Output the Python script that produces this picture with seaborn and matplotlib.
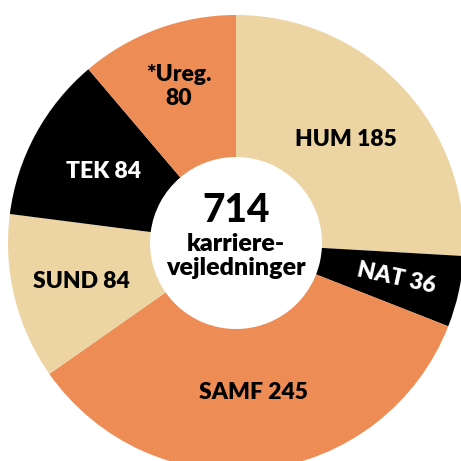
import numpy as np
import matplotlib
matplotlib.use("Agg")
import matplotlib.pyplot as plt
import seaborn as sns

# data
categories = ["HUM", "NAT", "SAMF", "SUND", "TEK", "*Ureg."]
values = [185, 36, 245, 84, 84, 80]
total_label = "714"
center_text = "karriere-\nvejledninger"

BEIGE = "#ECD5A3"
ORANGE = "#EE8C56"
BLACK = "#000000"
colors = [BEIGE, BLACK, ORANGE, BEIGE, BLACK, ORANGE]
text_colors = ["black", "white", "black", "black", "white", "black"]
label_dist = [0.66, 0.72, 0.66, 0.70, 0.66, 0.73]

sns.set_theme(style="white")
plt.rcParams["font.family"] = ["Lato", "DejaVu Sans"]

fig = plt.figure(figsize=(4.61, 4.61), dpi=100)
ax = fig.add_axes([0, 0, 1, 1])

R = 228.0
cx, cy = 236.0, 243.0
hole = 86.0 / R

wedges, _ = ax.pie(values, colors=colors, startangle=90, counterclock=False,
                   radius=1.0, wedgeprops=dict(width=1 - hole, linewidth=0))

for i, w in enumerate(wedges):
    mid = np.deg2rad((w.theta1 + w.theta2) / 2)
    x = label_dist[i] * np.cos(mid)
    y = label_dist[i] * np.sin(mid)
    if categories[i] == "*Ureg.":
        txt = f"{categories[i]}\n{values[i]}"
    else:
        txt = f"{categories[i]} {values[i]}"
    rot = np.rad2deg(mid) if categories[i] == "NAT" else 0
    ax.text(x, y, txt, ha="center", va="center", color=text_colors[i],
            fontsize=16.5, fontweight="heavy", rotation=rot,
            rotation_mode="anchor", linespacing=1.2)

ax.text(0, (cy - 210) / R, total_label, ha="center", va="center",
        fontsize=28, fontweight="black", color="black")
ax.text(0, (cy - 256) / R, center_text, ha="center", va="center",
        fontsize=18, fontweight="heavy", color="black", linespacing=1.15)

ax.set_xlim(-cx / R, (461 - cx) / R)
ax.set_ylim(-(461 - cy) / R, cy / R)
ax.set_aspect("equal")
ax.axis("off")

fig.savefig("out.png", dpi=100, facecolor="white")
